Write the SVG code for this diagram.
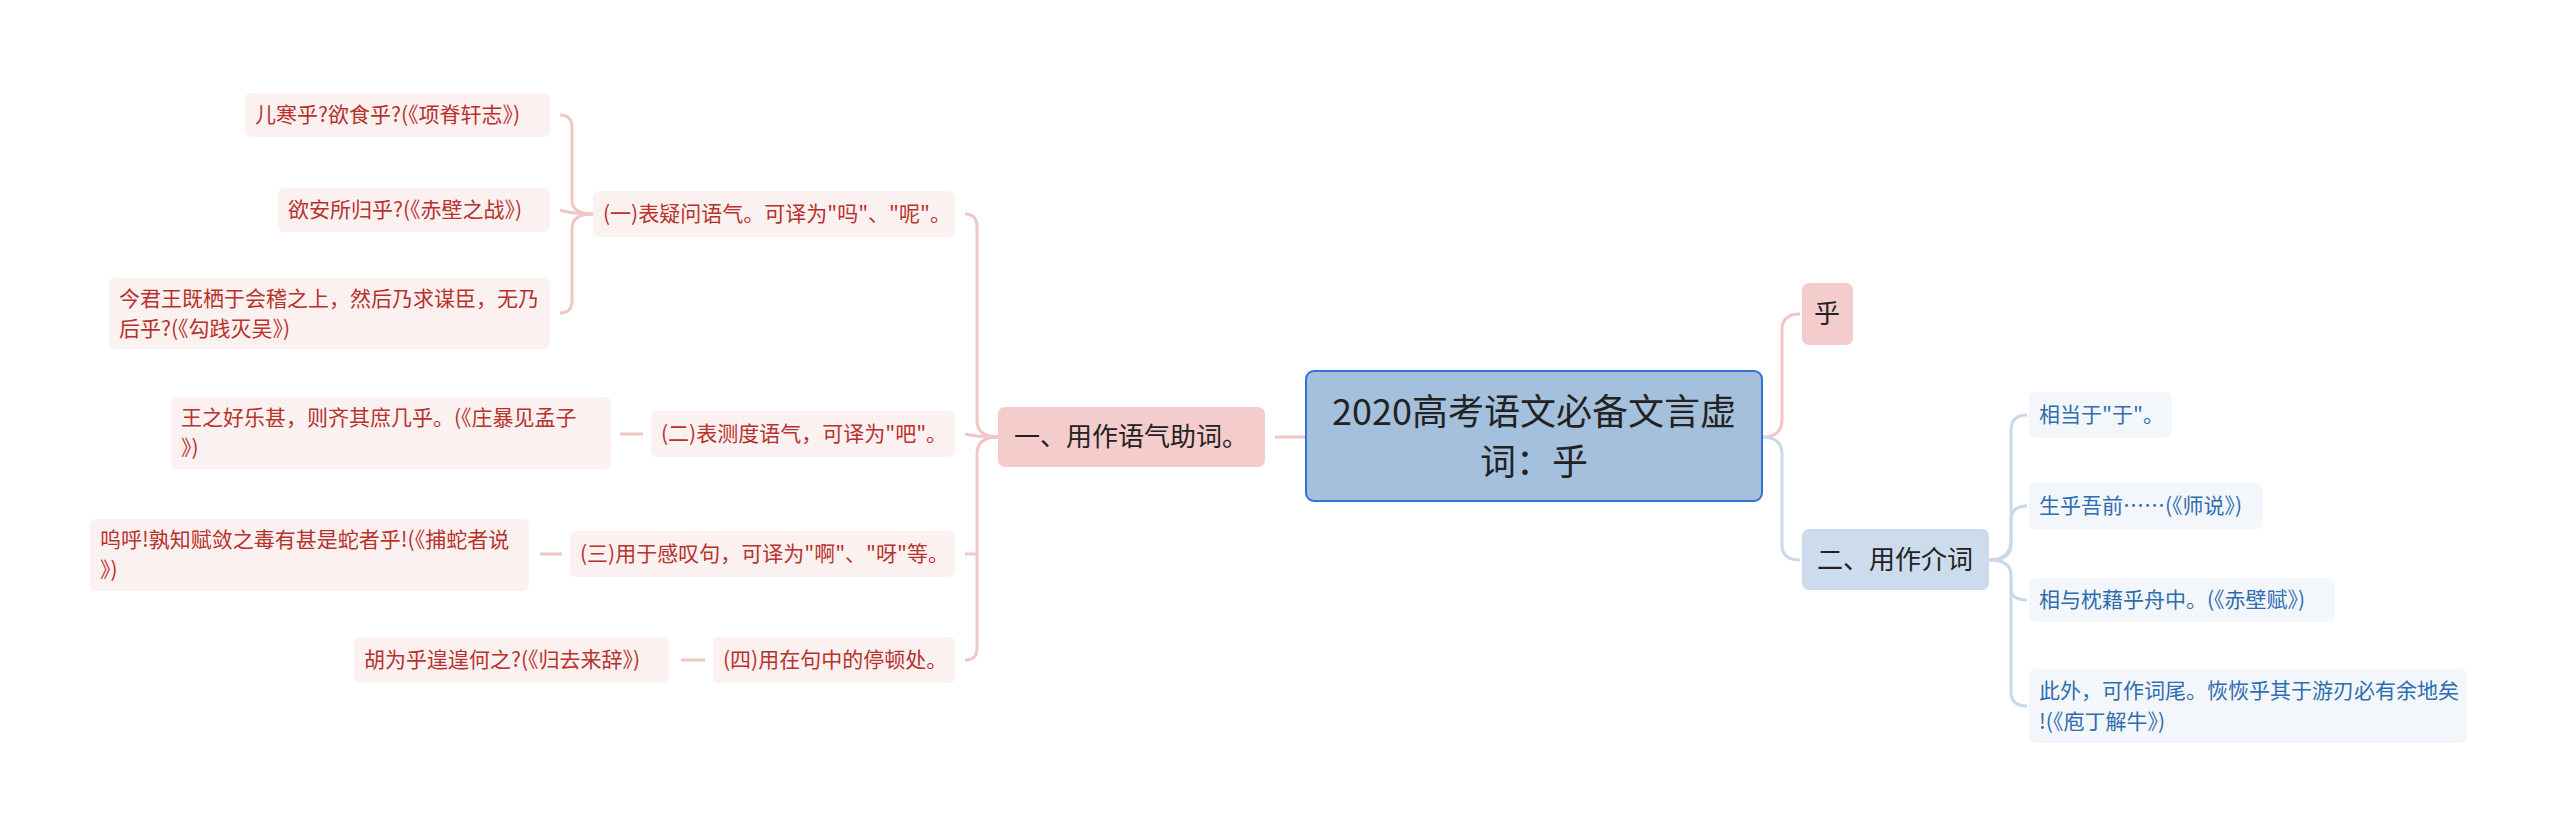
<svg xmlns="http://www.w3.org/2000/svg" width="2560" height="835" viewBox="0 0 2560 835">
<style>
text{font-family:"Noto Sans CJK SC","Noto Sans",sans-serif}
.lr{fill:#fcf1f1}.tr{fill:#b8322c;font-size:21px}
.lb{fill:#f3f7fc}.tb{fill:#2f6db0;font-size:21px}
.cr{fill:none;stroke:#f1c6c6;stroke-width:3}
.cb{fill:none;stroke:#c9d9ea;stroke-width:3}
</style>
<rect width="2560" height="835" fill="#fff"/>
<g id="connectors">
<path class="cr" d="M1306 437 H1275"/>
<path class="cr" d="M998 437 Q977 437 977 420 V227 Q977 214 965 214"/>
<path class="cr" d="M998 437 Q977 437 977 454 V648 Q977 660 965 660"/>
<path class="cr" d="M998 437 Q977 437 965 434"/>
<path class="cr" d="M977 554 H965"/>
<path class="cr" d="M593 214 Q572 214 572 200 V128 Q572 115 560 115"/>
<path class="cr" d="M593 214 Q572 214 572 228 V300 Q572 313 560 313"/>
<path class="cr" d="M593 214 Q572 214 560 210"/>
<path class="cr" d="M620 434 H643"/>
<path class="cr" d="M540 554 H562"/>
<path class="cr" d="M681 660 H705"/>
<path class="cr" d="M1762 437 Q1782 437 1782 420 V330 Q1782 314 1800 314"/>
<path class="cb" d="M1762 437 Q1782 437 1782 454 V545 Q1782 560 1800 560"/>
<path class="cb" d="M1989 560 Q2011 560 2011 545 V430 Q2011 415 2027 415"/>
<path class="cb" d="M1989 560 Q2011 560 2011 575 V692 Q2011 706 2027 706"/>
<path class="cb" d="M1989 560 Q2011 560 2011 540 V520 Q2011 506 2027 506"/>
<path class="cb" d="M2011 575 V588 Q2011 600 2027 600"/>
</g>
<g id="root"><rect x="1306" y="371" width="456" height="130" rx="8" fill="#a4c0dc" stroke="#2f72d6" stroke-width="2"/>
<text x="1534" y="425" font-size="36" text-anchor="middle" fill="#222">2020高考语文必备文言虚</text>
<text x="1534" y="475" font-size="36" text-anchor="middle" fill="#222">词：乎</text></g>
<g id="n1"><rect x="998" y="407" width="267" height="60" rx="7" fill="#f5cccc"/><text x="1131" y="446" font-size="26" text-anchor="middle" fill="#222">一、用作语气助词。</text></g>
<g id="n2"><rect x="1802" y="283" width="51" height="62" rx="7" fill="#f5cccc"/><text x="1827" y="323" font-size="26" text-anchor="middle" fill="#222">乎</text></g>
<g id="n3"><rect x="1802" y="529" width="187" height="61" rx="7" fill="#cddcec"/><text x="1895" y="569" font-size="26" text-anchor="middle" fill="#222">二、用作介词</text></g>
<g id="a1"><rect class="lr" x="593" y="191" width="362" height="46" rx="6"/><text class="tr" x="603" y="221">(一)表疑问语气。可译为"吗"、"呢"。</text></g>
<g id="a2"><rect class="lr" x="651" y="411" width="304" height="46" rx="6"/><text class="tr" x="661" y="441">(二)表测度语气，可译为"吧"。</text></g>
<g id="a3"><rect class="lr" x="570" y="531" width="385" height="46" rx="6"/><text class="tr" x="580" y="561">(三)用于感叹句，可译为"啊"、"呀"等。</text></g>
<g id="a4"><rect class="lr" x="713" y="637" width="242" height="46" rx="6"/><text class="tr" x="723" y="667">(四)用在句中的停顿处。</text></g>
<g id="b1"><rect class="lr" x="245" y="93" width="305" height="44" rx="6"/><text class="tr" x="255" y="122">儿寒乎?欲食乎?(《项脊轩志》)</text></g>
<g id="b2"><rect class="lr" x="278" y="188" width="272" height="44" rx="6"/><text class="tr" x="288" y="217">欲安所归乎?(《赤壁之战》)</text></g>
<g id="b3"><rect class="lr" x="109" y="278" width="441" height="71" rx="6"/><text class="tr" x="119" y="306">今君王既栖于会稽之上，然后乃求谋臣，无乃</text><text class="tr" x="119" y="336">后乎?(《勾践灭吴》)</text></g>
<g id="b4"><rect class="lr" x="171" y="397" width="440" height="72" rx="6"/><text class="tr" x="181" y="425">王之好乐甚，则齐其庶几乎。(《庄暴见孟子</text><text class="tr" x="181" y="455">》)</text></g>
<g id="b5"><rect class="lr" x="90" y="519" width="439" height="72" rx="6"/><text class="tr" x="100" y="547">呜呼!孰知赋敛之毒有甚是蛇者乎!(《捕蛇者说</text><text class="tr" x="100" y="577">》)</text></g>
<g id="b6"><rect class="lr" x="354" y="637" width="315" height="46" rx="6"/><text class="tr" x="364" y="667">胡为乎遑遑何之?(《归去来辞》)</text></g>
<g id="c1"><rect class="lb" x="2029" y="392" width="143" height="46" rx="6"/><text class="tb" x="2039" y="422">相当于"于"。</text></g>
<g id="c2"><rect class="lb" x="2029" y="483" width="234" height="46" rx="6"/><text class="tb" x="2039" y="513">生乎吾前……(《师说》)</text></g>
<g id="c3"><rect class="lb" x="2029" y="578" width="306" height="44" rx="6"/><text class="tb" x="2039" y="607">相与枕藉乎舟中。(《赤壁赋》)</text></g>
<g id="c4"><rect class="lb" x="2029" y="669" width="438" height="74" rx="6"/><text class="tb" x="2039" y="698">此外，可作词尾。恢恢乎其于游刃必有余地矣</text><text class="tb" x="2039" y="729">!(《庖丁解牛》)</text></g>
</svg>
